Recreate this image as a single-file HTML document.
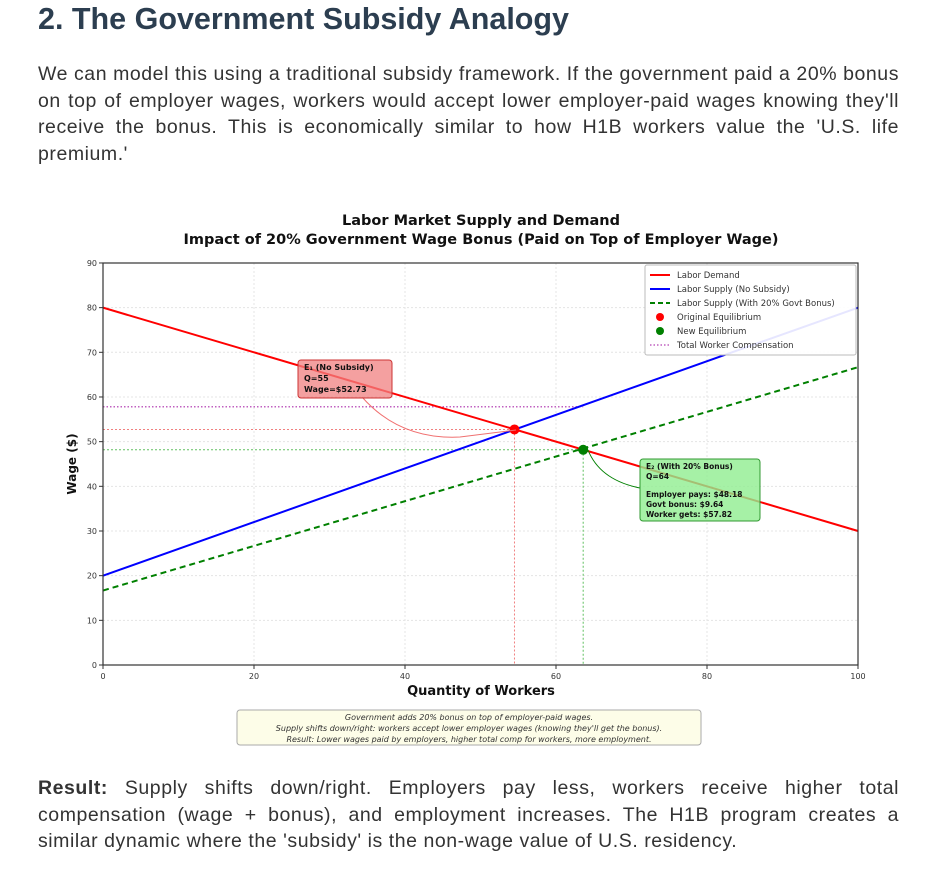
<!DOCTYPE html>
<html><head><meta charset="utf-8">
<style>
body{margin:0;width:930px;height:870px;background:#fff;font-family:"Liberation Sans",sans-serif;color:#333;position:relative;overflow:hidden}
h2{position:absolute;left:38px;top:2px;margin:0;font-size:30.5px;font-weight:bold;color:#2c3e50}
.p{position:absolute;left:38px;width:861px;font-size:19.5px;letter-spacing:0.55px;line-height:26.6px;color:#333}
.p span{display:block;text-align:justify;text-align-last:justify;white-space:nowrap}
.p span.last{text-align-last:left}
svg{position:absolute;left:0;top:0}
svg text{font-family:"DejaVu Sans",sans-serif}
</style></head><body>
<h2>2. The Government Subsidy Analogy</h2>
<div class="p" style="top:61px"><span>We can model this using a traditional subsidy framework. If the government paid a 20% bonus</span><span>on top of employer wages, workers would accept lower employer-paid wages knowing they'll</span><span>receive the bonus. This is economically similar to how H1B workers value the 'U.S. life</span><span class="last">premium.'</span></div>
<svg width="930" height="760">
<text x="481" y="225" text-anchor="middle" font-size="14.5" font-weight="bold" fill="#111">Labor Market Supply and Demand</text>
<text x="481" y="244" text-anchor="middle" font-size="14.5" font-weight="bold" fill="#111">Impact of 20% Government Wage Bonus (Paid on Top of Employer Wage)</text>
<g id="grid"></g>
<g id="marks"></g>
<rect x="103" y="263" width="755" height="402" fill="none" stroke="#333" stroke-width="1.2"/>
<text x="76" y="464" transform="rotate(-90 76 464)" text-anchor="middle" font-size="12" font-weight="bold" fill="#111">Wage ($)</text>
<text x="481" y="695" text-anchor="middle" font-size="13" font-weight="bold" fill="#111">Quantity of Workers</text>
<g>
<rect x="645" y="265" width="211" height="90" fill="#fff" fill-opacity="0.9" stroke="#bbb" rx="2"/>
<line x1="650" y1="275" x2="670" y2="275" stroke="red" stroke-width="2"/><text x="677" y="278" font-size="8.5" fill="#333">Labor Demand</text>
<line x1="650" y1="289" x2="670" y2="289" stroke="blue" stroke-width="2"/><text x="677" y="292" font-size="8.5" fill="#333">Labor Supply (No Subsidy)</text>
<line x1="650" y1="303" x2="670" y2="303" stroke="green" stroke-width="2" stroke-dasharray="5,3"/><text x="677" y="306" font-size="8.5" fill="#333">Labor Supply (With 20% Govt Bonus)</text>
<circle cx="660" cy="317" r="4" fill="red"/><text x="677" y="320" font-size="8.5" fill="#333">Original Equilibrium</text>
<circle cx="660" cy="331" r="4" fill="green"/><text x="677" y="334" font-size="8.5" fill="#333">New Equilibrium</text>
<line x1="650" y1="345" x2="670" y2="345" stroke="#c060c0" stroke-width="1.5" stroke-dasharray="1.5,2"/><text x="677" y="348" font-size="8.5" fill="#333">Total Worker Compensation</text>
</g>
<path d="M362 397 Q400 440 460 437 L516 430" fill="none" stroke="#f07070" stroke-width="1"/>
<g>
<rect x="298" y="360" width="94" height="38" rx="3" fill="#f08080" fill-opacity="0.75" stroke="#c33"/>
<text x="304" y="370" font-size="8" font-weight="bold" fill="#111">E₁ (No Subsidy)</text>
<text x="304" y="381" font-size="8" font-weight="bold" fill="#111">Q=55</text>
<text x="304" y="392" font-size="8" font-weight="bold" fill="#111">Wage=$52.73</text>
</g>
<path d="M588 450 Q600 480 640 488" fill="none" stroke="green" stroke-width="1"/>
<g>
<rect x="640" y="459" width="120" height="62" rx="3" fill="#90ee90" fill-opacity="0.8" stroke="#393"/>
<text x="646" y="469" font-size="7.5" font-weight="bold" fill="#111">E₂ (With 20% Bonus)</text>
<text x="646" y="479" font-size="7.5" font-weight="bold" fill="#111">Q=64</text>
<text x="646" y="497" font-size="7.5" font-weight="bold" fill="#111">Employer pays: $48.18</text>
<text x="646" y="507" font-size="7.5" font-weight="bold" fill="#111">Govt bonus: $9.64</text>
<text x="646" y="517" font-size="7.5" font-weight="bold" fill="#111">Worker gets: $57.82</text>
</g>
<g>
<rect x="237" y="710" width="464" height="35" rx="3" fill="#fdfde8" stroke="#aaa"/>
<text x="469" y="720" text-anchor="middle" font-size="8" font-style="italic" fill="#333">Government adds 20% bonus on top of employer-paid wages.</text>
<text x="469" y="731" text-anchor="middle" font-size="8" font-style="italic" fill="#333">Supply shifts down/right: workers accept lower employer wages (knowing they'll get the bonus).</text>
<text x="469" y="742" text-anchor="middle" font-size="8" font-style="italic" fill="#333">Result: Lower wages paid by employers, higher total comp for workers, more employment.</text>
</g>
</svg>
<div class="p" style="top:775px"><span><b>Result:</b> Supply shifts down/right. Employers pay less, workers receive higher total</span><span>compensation (wage + bonus), and employment increases. The H1B program creates a</span><span class="last">similar dynamic where the 'subsidy' is the non-wage value of U.S. residency.</span></div>
<script>
const xTicks=[0,20,40,60,80,100];
const yTicks=[0,10,20,30,40,50,60,70,80,90];
const demand=[80,30];      // wage at Q=0 and Q=100
const supply=[20,80];
const supplySub=[16.67,66.67];
const eq1=[54.5,52.73];
const eq2=[63.6,48.18];
const totalComp=[57.82];
const NS="http://www.w3.org/2000/svg";
const X=q=>103+q*7.55, Y=w=>665-w*4.467;
function mk(t,a,p){const e=document.createElementNS(NS,t);for(const k in a)e.setAttribute(k,a[k]);p.appendChild(e);return e;}
const g=document.getElementById('grid'), m=document.getElementById('marks');
xTicks.forEach(v=>{mk('line',{x1:X(v),x2:X(v),y1:263,y2:665,stroke:'#e4e4e4','stroke-dasharray':'2,2'},g);
 mk('line',{x1:X(v),x2:X(v),y1:665,y2:669,stroke:'#333'},g);
 const t=mk('text',{x:X(v),y:679,'text-anchor':'middle','font-size':8,fill:'#333'},g);t.textContent=v;
 
 });
yTicks.forEach(v=>{mk('line',{x1:103,x2:858,y1:Y(v),y2:Y(v),stroke:'#e4e4e4','stroke-dasharray':'2,2'},g);
 mk('line',{x1:99,x2:103,y1:Y(v),y2:Y(v),stroke:'#333'},g);
 const t=mk('text',{x:97,y:Y(v)+3,'text-anchor':'end','font-size':8,fill:'#333'},g);t.textContent=v;
 
 });
let l;
l=mk('line',{x1:103,x2:X(eq1[0]),y1:Y(eq1[1]),y2:Y(eq1[1]),stroke:'#f08080','stroke-dasharray':'2,2'},m);

l=mk('line',{x1:X(eq1[0]),x2:X(eq1[0]),y1:Y(eq1[1]),y2:665,stroke:'#f08080','stroke-dasharray':'2,2'},m);

l=mk('line',{x1:103,x2:X(eq2[0]),y1:Y(eq2[1]),y2:Y(eq2[1]),stroke:'#60c060','stroke-dasharray':'2,2'},m);

l=mk('line',{x1:X(eq2[0]),x2:X(eq2[0]),y1:Y(eq2[1]),y2:665,stroke:'#60c060','stroke-dasharray':'2,2'},m);

l=mk('line',{x1:103,x2:X(eq2[0]),y1:Y(totalComp[0]),y2:Y(totalComp[0]),stroke:'#c060c0','stroke-width':1.5,'stroke-dasharray':'1.5,2'},m);

l=mk('line',{x1:X(0),x2:X(100),y1:Y(supplySub[0]),y2:Y(supplySub[1]),stroke:'green','stroke-width':2,'stroke-dasharray':'6,4'},m);

l=mk('line',{x1:X(0),x2:X(100),y1:Y(supply[0]),y2:Y(supply[1]),stroke:'blue','stroke-width':2},m);

l=mk('line',{x1:X(0),x2:X(100),y1:Y(demand[0]),y2:Y(demand[1]),stroke:'red','stroke-width':2},m);

let c=mk('circle',{cx:X(eq1[0]),cy:Y(eq1[1]),r:5,fill:'red'},m);

c=mk('circle',{cx:X(eq2[0]),cy:Y(eq2[1]),r:5,fill:'green'},m);

</script>
</body></html>
